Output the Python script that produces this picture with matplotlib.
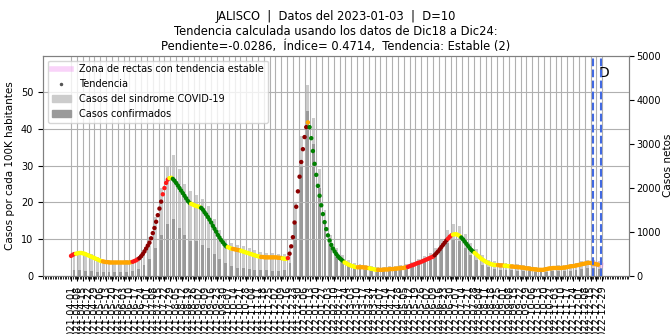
import matplotlib
matplotlib.use('Agg')
import matplotlib.pyplot as plt
import matplotlib.patches as mpatches
from matplotlib.lines import Line2D
from matplotlib.ticker import FixedLocator
import matplotlib.dates as mdates
import numpy as np
import pandas as pd

inicio = pd.Timestamp('2021-04-01')
paso_tendencia = 2  # dias entre puntos de tendencia
poblacion_100k = 83.5

# tendencia (casos por cada 100K), un punto cada 2 dias desde 2021-04-01
tendencia = [
    5.4, 5.7, 5.9,
    6.0, 6.1, 6.2, 6.2, 6.1, 6.0, 5.8, 5.6, 5.4, 5.2, 5.0, 4.8, 4.6, 4.4, 4.2, 4.0,
    3.9, 3.8, 3.7, 3.7, 3.6, 3.6, 3.6, 3.6, 3.6, 3.6, 3.6, 3.6, 3.6, 3.6, 3.6, 3.6, 3.6, 3.7,
    3.8, 4.0, 4.2, 4.5,
    4.8, 5.3, 5.9, 6.6, 7.4, 8.2, 9.0, 10.2, 11.6, 13.0, 14.7, 16.5, 18.3, 20.2,
    22.2, 23.9, 25.3, 26.2,
    26.6, 26.7,
    26.4, 25.9, 25.3, 24.6, 23.9, 23.2, 22.5, 21.8, 21.1, 20.4, 19.9,
    19.6, 19.4, 19.2, 19.0, 18.9, 18.7,
    18.5, 18.0, 17.3, 16.7, 16.0, 15.3, 14.5, 13.6, 12.8, 12.0, 11.1, 10.4, 9.7, 9.1, 8.5, 8.0,
    7.8, 7.6, 7.4,
    7.3, 7.2, 7.1, 7.0, 6.9,
    6.8, 6.6, 6.5, 6.3, 6.2, 6.0, 5.9, 5.7, 5.6, 5.4, 5.3, 5.2,
    5.1, 5.1, 5.0, 5.0, 5.0, 5.0, 5.0, 5.0, 5.0, 5.0, 4.9, 4.9, 4.8,
    4.7, 4.6, 4.6,
    4.8,
    6.0, 8.0, 10.5, 14.5, 18.8, 23.0, 27.0, 31.0, 34.5, 37.8, 40.5,
    41.8,
    40.5, 37.5, 34.0, 30.5, 27.5, 24.5, 21.8, 19.2, 16.8, 14.6, 12.7, 11.0, 9.6, 8.4, 7.4,
    6.6, 5.9, 5.3, 4.8, 4.4, 4.0,
    3.6, 3.4, 3.1, 2.9, 2.7, 2.6, 2.4, 2.3,
    2.3, 2.3, 2.3, 2.3, 2.2, 2.2, 2.1,
    2.0, 1.9, 1.8, 1.7, 1.6,
    1.6, 1.6, 1.6, 1.6, 1.7, 1.7, 1.7, 1.8, 1.8, 1.8, 1.9, 1.9, 2.0, 2.0, 2.1, 2.1, 2.2, 2.3,
    2.4, 2.6, 2.8, 2.9, 3.1, 3.3, 3.5, 3.6, 3.8, 4.0, 4.2, 4.4, 4.6, 4.8, 5.0, 5.2,
    5.6, 6.1, 6.6, 7.2, 7.8, 8.4, 9.0, 9.6,
    10.1, 10.6, 11.0,
    11.2, 11.3, 11.3, 11.1, 10.8,
    10.4, 9.9, 9.3, 8.7, 8.1, 7.5, 7.0, 6.6,
    6.2, 5.8, 5.4, 5.0, 4.6, 4.3, 4.0, 3.7, 3.5, 3.3, 3.1, 3.0, 2.9, 2.9,
    2.9, 2.8, 2.8, 2.8,
    2.7, 2.7, 2.6, 2.6,
    2.5, 2.5, 2.4, 2.4, 2.3, 2.3, 2.2, 2.2, 2.1, 2.0, 2.0, 1.9, 1.8, 1.8, 1.7, 1.7, 1.6, 1.6,
    1.6, 1.6, 1.7, 1.8, 1.9, 2.0, 2.0, 2.1, 2.1, 2.1, 2.1, 2.1, 2.1, 2.2, 2.2, 2.3, 2.4, 2.5,
    2.6, 2.6, 2.7, 2.8, 2.9, 3.0, 3.1, 3.2, 3.3, 3.4, 3.5, 3.5, 3.4, 3.3, 3.2, 3.1, 3.0,
]

# clasificacion de la tendencia por tramos (color, numero de puntos)
seg_color = ['red', 'yellow', 'orange', 'red', 'darkred', 'red', 'yellow', 'green',
             'yellow', 'green', 'yellow', 'orange', 'yellow', 'orange', 'yellow', 'red',
             'darkred', 'orange', 'green', 'yellow', 'orange', 'yellow', 'orange', 'red',
             'darkred', 'red', 'yellow', 'green', 'yellow', 'orange', 'yellow', 'orange']
seg_len = [3, 16, 18, 4, 14, 4, 2, 11, 6, 16, 3, 5, 12, 13, 3, 1,
           11, 1, 21, 8, 7, 5, 18, 16, 8, 3, 5, 8, 14, 4, 4, 53]

# casos netos por semana (desde 2021-04-01)
sindrome = [540, 570, 540, 485, 420, 365, 350, 335, 340, 350, 365, 435, 600, 875, 1335,
            2000, 2500, 2750, 2420, 2090, 1920, 1835, 1755, 1585, 1295, 1045, 835, 750,
            710, 670, 625, 585, 545, 520, 520, 500, 485, 670, 1670, 3170, 4340, 3590,
            2420, 1505, 920, 625, 460, 350, 290, 265, 250, 225, 200, 200, 210, 225, 240,
            265, 315, 385, 450, 525, 625, 835, 1045, 1170, 1125, 960, 750, 610, 470, 365,
            325, 300, 290, 275, 260, 240, 215, 190, 185, 200, 225, 235, 235, 260, 290,
            325, 360, 365, 335]
confirmados = [135, 125, 110, 100, 85, 75, 75, 75, 85, 90, 110, 150, 235, 375, 625,
               920, 1170, 1295, 1085, 920, 795, 795, 710, 625, 500, 375, 290, 210,
               185, 165, 150, 135, 125, 125, 115, 115, 135, 290, 1170, 2505, 3760, 3005,
               2005, 1170, 670, 420, 290, 210, 165, 150, 135, 115, 100, 100, 110, 125, 140,
               165, 210, 260, 310, 365, 450, 600, 750, 835, 795, 625, 460, 350, 250, 190,
               160, 140, 135, 125, 115, 110, 100, 85, 85, 90, 100, 110, 110, 115, 135,
               150, 165, 165, 150]

# zona de rectas con tendencia estable
zona_fechas = ['2022-12-20', '2022-12-27']
zona_valores = [3.2, 2.9]

fecha_tend = '2022-12-18'
fecha_d = '2022-12-28'
ultima_etiqueta = '2022-12-29'
xlim = ('2021-02-26 09:00', '2023-01-30')

colores = {'darkred': '#8b0000', 'red': '#ff1a1a', 'orange': '#ffa500',
           'yellow': '#ffff00', 'green': '#008000'}

fig = plt.figure(figsize=(6.71, 3.34), dpi=100)
ax = fig.add_axes([0.0641, 0.1746, 0.8733, 0.6587])
ax2 = ax.twinx()
ax.set_zorder(2)
ax.patch.set_visible(False)

# barras semanales
semanas = inicio + pd.to_timedelta(np.arange(len(sindrome)) * 7 + 3.5, unit='D')
ax2.bar(semanas, sindrome, width=3.5, color='#cccccc', linewidth=0)
ax2.bar(semanas, confirmados, width=3.5, color='#9a9a9a', linewidth=0)

# tendencia
dias = inicio + pd.to_timedelta(np.arange(len(tendencia)) * paso_tendencia, unit='D')
cols = np.repeat([colores[c] for c in seg_color], seg_len)[:len(tendencia)]
ax.plot(pd.to_datetime(zona_fechas), zona_valores, color='violet', alpha=0.35, lw=4, zorder=2)
ax.scatter(dias[:len(cols)], tendencia[:len(cols)], c=cols, s=10, linewidths=0, zorder=3)

ax.axvline(pd.Timestamp(fecha_tend), color='royalblue', ls='--', lw=1.5, zorder=4)
ax.axvline(pd.Timestamp(fecha_d), color='royalblue', ls='--', lw=1.5, zorder=4)
ax.text(pd.Timestamp(fecha_d) + pd.Timedelta(days=3), 55.2, 'D', fontsize=10,
        ha='center', va='center')

# ejes
ticks = pd.date_range(inicio, ultima_etiqueta, freq='7D')
ax.set_xticks(ticks)
ax.set_xticklabels([t.strftime('%Y-%m-%d') for t in ticks], rotation=90, fontsize=7)
menores = pd.date_range(xlim[0], xlim[1], freq='2D')
ax.xaxis.set_minor_locator(FixedLocator(mdates.date2num(menores)))
ax.tick_params(axis='x', which='minor', length=2.5, width=0.6)
ax.set_xlim(pd.Timestamp(xlim[0]), pd.Timestamp(xlim[1]))

ax.set_ylim(0, 60)
ax.set_yticks(range(0, 60, 10))
ax2.set_ylim(0, 60 * poblacion_100k)
ax2.set_yticks(range(0, 5001, 1000))
ax.tick_params(axis='y', labelsize=7)
ax2.tick_params(axis='y', labelsize=7, pad=2)
ax.set_ylabel('Casos por cada 100K habitantes', fontsize=7.5)
ax2.set_ylabel('Casos netos', fontsize=7.5, labelpad=1)

ax.grid(True, which='major', color='#b0b0b0', lw=0.8)
for a in (ax, ax2):
    for s in a.spines.values():
        s.set_color('#808080')

ax.set_title('JALISCO  |  Datos del 2023-01-03  |  D=10\n'
             'Tendencia calculada usando los datos de Dic18 a Dic24:\n'
             'Pendiente=-0.0286,  Índice= 0.4714,  Tendencia: Estable (2)',
             fontsize=8.3, pad=4)

handles = [Line2D([0], [0], color='violet', alpha=0.35, lw=4),
           Line2D([0], [0], ls='none', marker='.', color='#555555', markersize=3),
           mpatches.Patch(color='#cccccc'),
           mpatches.Patch(color='#9a9a9a')]
labels = ['Zona de rectas con tendencia estable', 'Tendencia',
          'Casos del sindrome COVID-19', 'Casos confirmados']
ax.legend(handles, labels, loc='upper left', fontsize=7, framealpha=0.8)

fig.savefig('out.png', dpi=100)
